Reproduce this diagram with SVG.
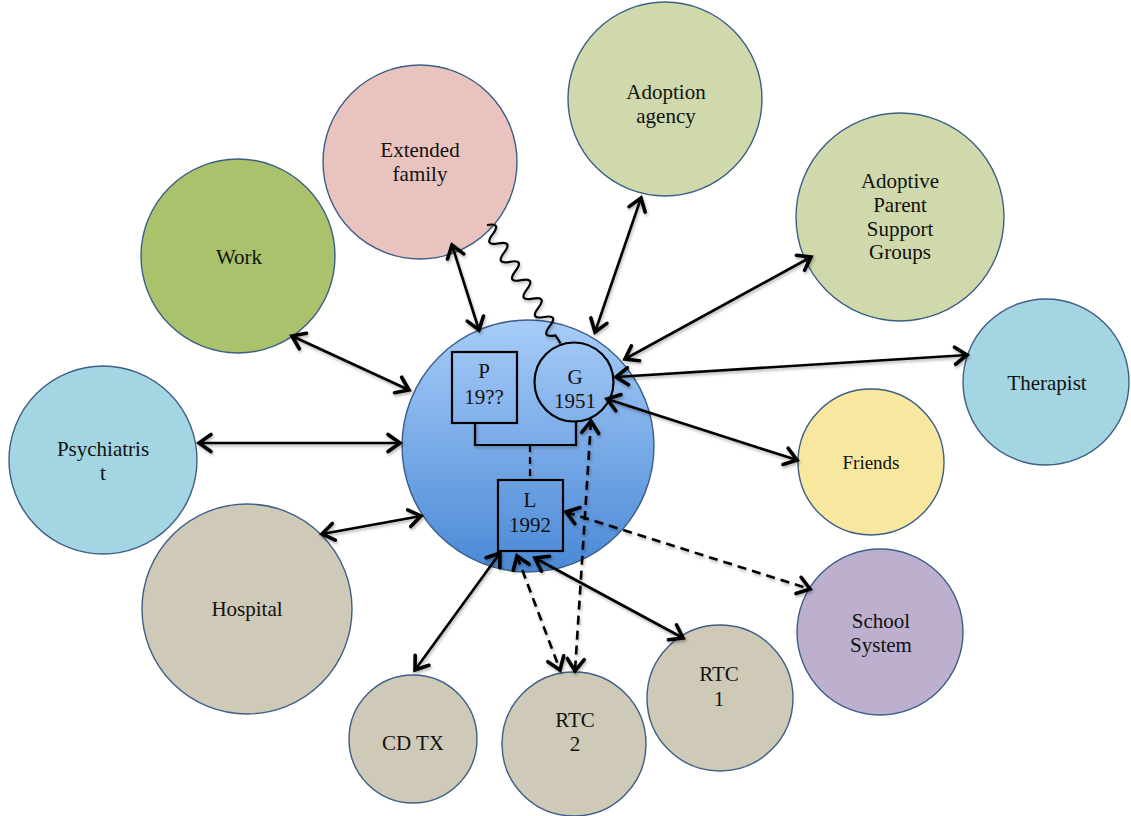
<svg xmlns="http://www.w3.org/2000/svg" width="1131" height="816" viewBox="0 0 1131 816">
  <style>
    .node { stroke: #3d5e86; stroke-width: 1.4; }
    .lbl { font-family: "Liberation Serif", "Times New Roman", serif; font-size: 21px; fill: #111; text-anchor: middle; }
    .small { font-size: 19px; }
    .inner { font-family: "Liberation Serif", "Times New Roman", serif; font-size: 21px; fill: #111; text-anchor: middle; }
    .sym { fill: none; stroke: #000; stroke-width: 2.2; }
    .link { fill: none; stroke: #000; stroke-width: 2.6; marker-start: url(#head); marker-end: url(#head); }
    .dash { stroke-dasharray: 9 6; }
    .plain { fill: none; stroke: #000; stroke-width: 2.2; }
  </style>
  <defs>
    <linearGradient id="core" x1="0" y1="0" x2="0" y2="1">
      <stop offset="0" stop-color="#a7ccf8"/>
      <stop offset="1" stop-color="#4a89d6"/>
    </linearGradient>
    <marker id="head" viewBox="-16 -12 20 24" refX="0" refY="0" markerWidth="20" markerHeight="24" markerUnits="userSpaceOnUse" orient="auto-start-reverse">
      <path d="M-12,-8.5 L0,0 L-12,8.5" fill="none" stroke="#000" stroke-width="3.6" stroke-linecap="round" stroke-linejoin="miter"/>
    </marker>
    <filter id="shade" x="-10%" y="-10%" width="120%" height="120%">
      <feDropShadow dx="1" dy="2" stdDeviation="1.4" flood-color="#000" flood-opacity="0.3"/>
    </filter>
  </defs>

  <!-- surrounding systems -->
  <g id="work"><circle class="node" cx="238" cy="256" r="97" fill="#a9c26b"/><text class="lbl" x="239" y="264">Work</text></g>
  <g id="extended-family"><circle class="node" cx="420" cy="162" r="97" fill="#e9c3be"/><text class="lbl" x="420" y="157">Extended</text><text class="lbl" x="420" y="181">family</text></g>
  <g id="adoption-agency"><circle class="node" cx="665" cy="99" r="97" fill="#cfd9ab"/><text class="lbl" x="666" y="99">Adoption</text><text class="lbl" x="666" y="123">agency</text></g>
  <g id="support-groups"><circle class="node" cx="900" cy="217" r="104" fill="#cfd9ab"/><text class="lbl" x="900" y="188">Adoptive</text><text class="lbl" x="900" y="212">Parent</text><text class="lbl" x="900" y="236">Support</text><text class="lbl" x="900" y="259">Groups</text></g>
  <g id="therapist"><circle class="node" cx="1046" cy="382" r="83" fill="#a3d6e2"/><text class="lbl" x="1047" y="390">Therapist</text></g>
  <g id="friends"><circle class="node" cx="871" cy="462" r="73" fill="#f8e79f"/><text class="lbl small" x="871" y="469">Friends</text></g>
  <g id="school-system"><circle class="node" cx="880" cy="632" r="83" fill="#bdb0cf"/><text class="lbl" x="881" y="628">School</text><text class="lbl" x="881" y="652">System</text></g>
  <g id="rtc1"><circle class="node" cx="720" cy="698" r="73" fill="#cfc9b7"/><text class="lbl" x="719" y="681">RTC</text><text class="lbl" x="719" y="706">1</text></g>
  <g id="rtc2"><circle class="node" cx="574" cy="744" r="72" fill="#cfc9b7"/><text class="lbl" x="575" y="727">RTC</text><text class="lbl" x="575" y="751">2</text></g>
  <g id="cd-tx"><circle class="node" cx="413" cy="739" r="64" fill="#cfc9b7"/><text class="lbl" x="413" y="750">CD TX</text></g>
  <g id="hospital"><circle class="node" cx="247" cy="609" r="105" fill="#cfc9b7"/><text class="lbl" x="247" y="616">Hospital</text></g>
  <g id="psychiatrist"><circle class="node" cx="103" cy="460" r="94" fill="#a3d6e2"/><text class="lbl" x="103" y="456">Psychiatris</text><text class="lbl" x="103" y="480">t</text></g>

  <!-- household at the centre -->
  <g id="household"><circle class="node" cx="528" cy="446" r="126" fill="url(#core)"/></g>
  <g id="p"><rect class="sym" x="452" y="352" width="65" height="71"/><text class="inner" x="484" y="378">P</text><text class="inner" x="484" y="404">19??</text></g>
  <g id="g"><circle class="sym" cx="574" cy="382" r="39.5"/><text class="inner" x="575" y="384">G</text><text class="inner" x="575" y="408">1951</text></g>
  <g id="l"><rect class="sym" x="498" y="480" width="65" height="71"/><text class="inner" x="530" y="507">L</text><text class="inner" x="530" y="532">1992</text></g>

  <!-- relationships -->
  <g id="connectors" filter="url(#shade)">
    <path class="plain" d="M475,423 V445 H576 V421"/>
    <path class="plain" stroke-dasharray="7 5" d="M530,445 V480"/>
    <path class="plain" stroke-width="1.7" d="M487,225 q14.8,-2.8 5.7,9.2 t5.7,9.2 t5.7,9.2 t5.7,9.2 t5.7,9.2 t5.7,9.2 t5.7,9.2 t5.7,9.2 t5.7,9.2 t5.7,9.2 t5.7,9.2 t5.7,9.2 q3,4 5,8"/>
    <path class="link" d="M292,336 L409,390"/>
    <path class="link" d="M452,245 L479,330"/>
    <path class="link" d="M641,198 L595,332"/>
    <path class="link" d="M811,257 L625,359"/>
    <path class="link" d="M967,355 L616,377"/>
    <path class="link" d="M797,460 L607,399"/>
    <path class="link" d="M199,443 L400,443"/>
    <path class="link" d="M322,534 L421,516"/>
    <path class="link" d="M415,670 L500,553"/>
    <path class="link" d="M535,558 L683,638"/>
    <path class="link dash" d="M517,556 L560,670"/>
    <path class="link dash" d="M591,421 L575,671"/>
    <path class="link dash" d="M566,512 L810,589"/>
  </g>
</svg>
